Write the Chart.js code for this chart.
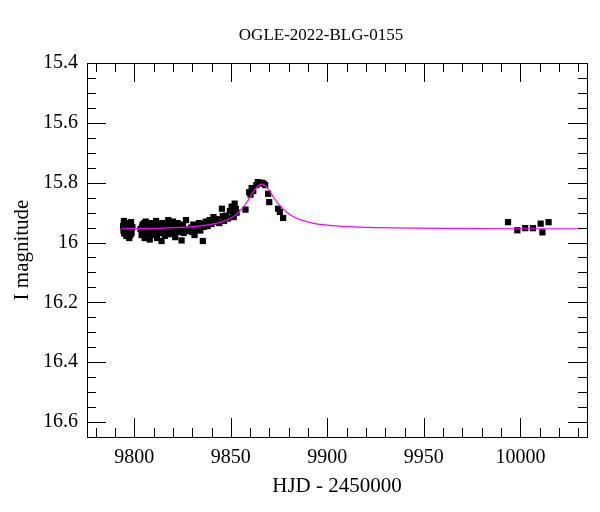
<!DOCTYPE html>
<html>
<head>
<meta charset="utf-8">
<script src="https://cdn.jsdelivr.net/npm/chart.js@4"></script>
<style>
  html, body { margin: 0; padding: 0; background: #fff; }
</style>
</head>
<body>
<canvas id="lc" width="600" height="512"></canvas>
<script>
const titleText = "OGLE-2022-BLG-0155";

// observed photometry (HJD - 2450000, I mag)
const obsDays = [
  9794.2, 9794.4, 9794.8, 9795.3, 9795.6, 9795.9, 9796.5, 9797.0, 9797.4, 9797.8, 9798.3, 9798.6, 9799.0,
  9794.6, 9796.2, 9798.0,
  9803.2, 9803.8, 9804.3, 9804.9, 9805.4, 9805.9, 9806.4, 9806.9, 9807.5, 9808.0, 9808.5, 9809.0, 9809.6,
  9810.2, 9810.7, 9811.3, 9811.8, 9812.4, 9813.0, 9813.5, 9814.1, 9814.6, 9815.2, 9815.8, 9816.4, 9817.0,
  9804.0, 9805.1, 9806.1, 9807.2, 9808.2, 9809.3, 9810.4, 9811.5, 9812.7, 9813.8, 9815.0, 9816.1,
  9817.6, 9818.2, 9818.8, 9819.4, 9820.0, 9820.6, 9821.2, 9821.8, 9822.4, 9823.0, 9823.6, 9824.5, 9825.2,
  9826.0, 9826.8, 9827.5, 9818.5, 9819.8, 9821.0, 9822.7, 9824.0, 9825.6,
  9829.5, 9830.0, 9830.6, 9831.2, 9832.0, 9832.8, 9833.5, 9834.2, 9835.5, 9836.0, 9837.0, 9838.0, 9839.0,
  9840.0, 9841.0, 9842.0, 9843.0, 9844.0, 9845.4, 9845.8, 9846.5, 9831.5, 9833.0, 9836.6, 9841.5,
  9847.5, 9848.5, 9849.5, 9850.4, 9851.0, 9851.5, 9852.0, 9852.6, 9853.0, 9857.6,
  9859.5, 9860.2, 9860.8, 9861.6, 9863.2, 9864.0, 9865.0, 9866.0, 9867.0, 9867.8, 9869.3, 9869.9,
  9874.5, 9875.4, 9877.1,
  9993.6, 9998.4, 10002.5, 10006.5, 10010.5, 10011.4, 10014.6
];
const obsMags = [
  15.945, 15.960, 15.970, 15.935, 15.952, 15.978, 15.962, 15.945, 15.985, 15.955, 15.932, 15.968, 15.948,
  15.928, 15.940, 15.975,
  15.955, 15.975, 15.940, 15.962, 15.985, 15.930, 15.950, 15.970, 15.945, 15.990, 15.935, 15.958, 15.975,
  15.942, 15.962, 15.928, 15.985, 15.952, 15.940, 15.968, 15.995, 15.935, 15.955, 15.978, 15.945, 15.962,
  15.948, 15.935, 15.965, 15.958, 15.942, 15.968, 15.952, 15.945, 15.965, 15.950, 15.940, 15.958,
  15.925, 15.950, 15.972, 15.940, 15.930, 15.958, 15.982, 15.945, 15.935, 15.965, 15.950, 15.993, 15.940,
  15.955, 15.925, 15.962, 15.940, 15.962, 15.948, 15.955, 15.945, 15.968,
  15.950, 15.965, 15.940, 15.975, 15.955, 15.945, 15.935, 15.960, 15.995, 15.948, 15.930, 15.945, 15.925,
  15.938, 15.915, 15.930, 15.922, 15.935, 15.887, 15.912, 15.928, 15.945, 15.952, 15.938, 15.925,
  15.910, 15.920, 15.895, 15.880, 15.905, 15.915, 15.870, 15.888, 15.900, 15.890,
  15.832, 15.840, 15.818, 15.828, 15.808, 15.798, 15.802, 15.800, 15.803, 15.808, 15.837, 15.865,
  15.887, 15.898, 15.918,
  15.932, 15.959, 15.952, 15.952, 15.937, 15.966, 15.932
];

// model light curve
const modelDays = [9793, 9810, 9822, 9830, 9839, 9845, 9850, 9853, 9856, 9858, 9860, 9862, 9864, 9866,
  9868, 9870, 9872, 9874, 9876, 9879, 9882, 9887, 9893, 9900, 9911, 9925, 9945, 9970, 10000, 10032];
const modelMags = [15.954, 15.953, 15.950, 15.947, 15.940, 15.932, 15.918, 15.905, 15.885, 15.868, 15.848, 15.827,
  15.811, 15.805, 15.811, 15.827, 15.848, 15.866, 15.881, 15.899, 15.912, 15.926, 15.936, 15.942, 15.947,
  15.950, 15.952, 15.953, 15.954, 15.954];

const xTicks = [9800, 9850, 9900, 9950, 10000];
const yTicks = [15.4, 15.6, 15.8, 16, 16.2, 16.4, 16.6];

const serif = "'Liberation Serif', 'DejaVu Serif', serif";

/* frame, inward ticks and title */
const framePlugin = {
  id: "frame",
  afterDraw(c) {
    const ctx = c.ctx, a = c.chartArea;
    const xs = c.scales.x, ys = c.scales.y;
    ctx.save();
    ctx.strokeStyle = "#000";
    ctx.lineWidth = 1;
    ctx.strokeRect(a.left + 0.5, a.top + 0.5, a.right - a.left, a.bottom - a.top);

    ctx.beginPath();
    for (let v = 9780; v <= xs.max; v += 10) {
      const px = Math.round(xs.getPixelForValue(v)) + 0.5;
      const len = xTicks.includes(v) ? 19 : 9;
      ctx.moveTo(px, a.bottom); ctx.lineTo(px, a.bottom - len);
      ctx.moveTo(px, a.top); ctx.lineTo(px, a.top + len);
    }
    for (let i = 0; 15.4 + i * 0.05 <= ys.max + 1e-9; i++) {
      const v = +(15.4 + i * 0.05).toFixed(2);
      const py = Math.round(ys.getPixelForValue(v)) + 0.5;
      const len = i % 4 === 0 ? 19 : 9;
      ctx.moveTo(a.left, py); ctx.lineTo(a.left + len, py);
      ctx.moveTo(a.right, py); ctx.lineTo(a.right - len, py);
    }
    ctx.stroke();

    ctx.fillStyle = "#000";
    ctx.font = "17px " + serif;
    ctx.textAlign = "center";
    ctx.textBaseline = "middle";
    ctx.fillText(titleText, 321, 36);
    ctx.restore();
  }
};

new Chart(document.getElementById("lc"), {
  type: "scatter",
  data: {
    datasets: [
      {
        type: "line",
        data: modelDays.map((d, i) => ({ x: d, y: modelMags[i] })),
        borderColor: "#ff00ff",
        borderWidth: 1.2,
        pointRadius: 0,
        cubicInterpolationMode: "monotone",
        fill: false,
        order: 0
      },
      {
        data: obsDays.map((d, i) => ({ x: d, y: obsMags[i] })),
        pointStyle: "rect",
        pointRadius: 4.4,
        backgroundColor: "#000",
        borderColor: "#000",
        borderWidth: 0,
        order: 1
      }
    ]
  },
  options: {
    responsive: false,
    animation: false,
    devicePixelRatio: 1,
    layout: { padding: { top: 63, right: 13, left: 0, bottom: 0 } },
    plugins: { legend: { display: false }, tooltip: { enabled: false }, title: { display: false } },
    scales: {
      x: {
        type: "linear",
        min: 9775.5,
        max: 10034.5,
        afterFit: s => { s.height = 75; },
        afterBuildTicks: s => { s.ticks = xTicks.map(v => ({ value: v })); },
        grid: { display: false, drawTicks: false },
        border: { display: false },
        ticks: { color: "#000", padding: 9, font: { family: serif, size: 20 }, callback: v => String(v), maxRotation: 0 },
        title: { display: true, text: "HJD - 2450000", color: "#000", font: { family: serif, size: 21 }, padding: { bottom: 13 } }
      },
      y: {
        type: "linear",
        reverse: true,
        min: 15.4,
        max: 16.65,
        afterFit: s => { s.width = 87; },
        afterBuildTicks: s => { s.ticks = yTicks.map(v => ({ value: v })); },
        grid: { display: false, drawTicks: false },
        border: { display: false },
        ticks: { color: "#000", padding: 9, font: { family: serif, size: 20 }, callback: v => String(+v.toFixed(2)) },
        title: { display: true, text: "I magnitude", color: "#000", font: { family: serif, size: 21 }, padding: { top: 10 } }
      }
    }
  },
  plugins: [framePlugin]
});
</script>
</body>
</html>
